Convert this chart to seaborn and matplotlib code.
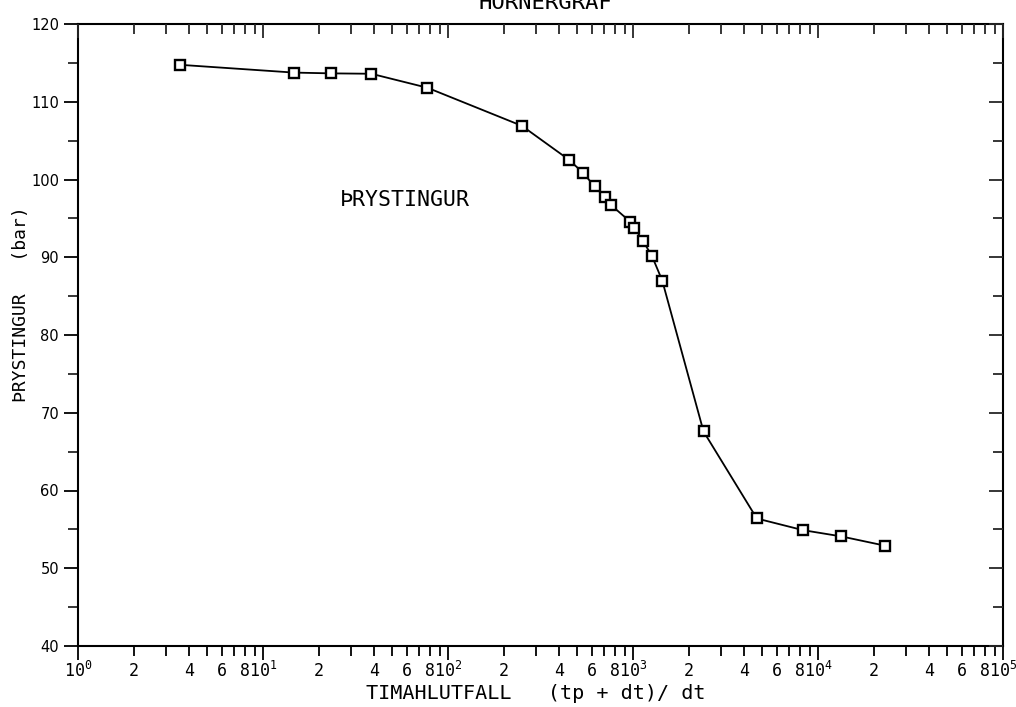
import numpy as np
import pandas as pd
import matplotlib
matplotlib.use("Agg")
import matplotlib.pyplot as plt
import matplotlib.ticker as mticker
import seaborn as sns

# ---- data ----
ratio = [3.57, 14.7, 23.4, 38.5, 77.4, 251, 453, 534, 622, 706, 762,
         968, 1018, 1128, 1264, 1439, 2405, 4670, 8300, 13340, 23070]
pressure = [114.75, 113.75, 113.65, 113.6, 111.8, 106.9, 102.5, 100.9, 99.1,
            97.7, 96.7, 94.55, 93.8, 92.15, 90.2, 87.0, 67.6, 56.4, 54.9,
            54.1, 52.9]

decades = [1, 10, 100, 1000, 10000, 100000]
decade_labels = [r"$\mathregular{10^{0}}$", r"$\mathregular{10^{1}}$",
                 r"$\mathregular{10^{2}}$", r"$\mathregular{10^{3}}$",
                 r"$\mathregular{10^{4}}$", r"$\mathregular{10^{5}}$"]
sub_mult = [2, 3, 4, 5, 6, 7, 8, 9]
sub_labelled = [2, 4, 6, 8]
y_major = [40, 50, 60, 70, 80, 90, 100, 110, 120]
y_minor = [45, 55, 65, 75, 85, 95, 105, 115]

title_text = "HORNERGRAF"
xlabel_text = "TIMAHLUTFALL   (tp + dt)/ dt"
ylabel_text = "ÞRYSTINGUR   (bar)"
annot_text = "ÞRYSTINGUR"

# ---- style ----
sns.set_theme(style="white")
plt.rcParams["font.family"] = ["DejaVu Sans Mono", "DejaVu Sans"]
plt.rcParams["mathtext.fontset"] = "dejavusans"

fig = plt.figure(figsize=(10.16, 7.07), dpi=100)
W, H = 1016, 707
L, R, T, B = 78, 1003, 24, 646
ax = fig.add_axes([L / W, (H - B) / H, (R - L) / W, (B - T) / H])

df = pd.DataFrame({"ratio": ratio, "pressure": pressure})
sns.lineplot(data=df, x="ratio", y="pressure", sort=False, ax=ax,
             color="black", linewidth=1.3, marker="s", markersize=6.5,
             markerfacecolor="white", markeredgecolor="black",
             markeredgewidth=1.7)

ax.set_xscale("log")
ax.set_xlim(1, 1e5)
ax.set_ylim(40, 120)

for s in ax.spines.values():
    s.set_visible(True)
    s.set_color("black")
    s.set_linewidth(1.5)

# x ticks (bottom, outward)
minor_pos = [m * d for d in decades[:-1] for m in sub_mult]
minor_lab = [str(m) if m in sub_labelled else "" for d in decades[:-1] for m in sub_mult]
ax.xaxis.set_major_locator(mticker.FixedLocator(decades))
ax.xaxis.set_major_formatter(mticker.FixedFormatter(decade_labels))
ax.xaxis.set_minor_locator(mticker.FixedLocator(minor_pos))
ax.xaxis.set_minor_formatter(mticker.FixedFormatter(minor_lab))
ax.tick_params(axis="x", which="major", direction="out", length=10, width=1.3,
               labelsize=12, pad=12.4, bottom=True, top=False, colors="black")
ax.tick_params(axis="x", which="minor", direction="out", length=7, width=1.3,
               labelsize=12, pad=14.6, bottom=True, top=False, colors="black")
for t in ax.xaxis.get_major_ticks() + ax.xaxis.get_minor_ticks():
    t.label1.set_verticalalignment("baseline")

# y ticks (left, outward)
ax.yaxis.set_major_locator(mticker.FixedLocator(y_major))
ax.yaxis.set_minor_locator(mticker.FixedLocator(y_minor))
ax.yaxis.set_major_formatter(mticker.FormatStrFormatter("%d"))
ax.tick_params(axis="y", which="major", direction="out", length=10, width=1.3,
               labelsize=10.5, pad=3.6, left=True, right=False, colors="black")
ax.tick_params(axis="y", which="minor", direction="out", length=7, width=1.3,
               left=True, right=False)
for lab in ax.get_yticklabels():
    lab.set_family("DejaVu Sans")

# top ticks (inward)
axt = ax.twiny()
axt.set_xscale("log")
axt.set_xlim(ax.get_xlim())
axt.xaxis.set_major_locator(mticker.FixedLocator(decades))
axt.xaxis.set_minor_locator(mticker.FixedLocator(minor_pos))
axt.xaxis.set_major_formatter(mticker.NullFormatter())
axt.xaxis.set_minor_formatter(mticker.NullFormatter())
axt.tick_params(axis="x", which="major", direction="in", length=10, width=1.3,
                top=True, bottom=False)
axt.tick_params(axis="x", which="minor", direction="in", length=7, width=1.3,
                top=True, bottom=False)
axt.grid(False)
for s in axt.spines.values():
    s.set_visible(False)

# right ticks (inward)
axr = ax.twinx()
axr.set_ylim(ax.get_ylim())
axr.yaxis.set_major_locator(mticker.FixedLocator(y_major))
axr.yaxis.set_minor_locator(mticker.FixedLocator(y_minor))
axr.yaxis.set_major_formatter(mticker.NullFormatter())
axr.tick_params(axis="y", which="major", direction="in", length=10, width=1.3,
                right=True, left=False)
axr.tick_params(axis="y", which="minor", direction="in", length=7, width=1.3,
                right=True, left=False)
axr.grid(False)
for s in axr.spines.values():
    s.set_visible(False)

ax.grid(False)
ax.set_xlabel(xlabel_text, fontsize=14.5, color="black")
ax.xaxis.set_label_coords(0.495, -0.061)
ax.set_ylabel(ylabel_text, fontsize=13, color="black")
ax.yaxis.set_label_coords(-0.052, 0.55)

ax.text(26, 97.4, annot_text, fontsize=15.5, color="black",
        ha="left", va="center")

fig.text(545 / W, 1 - 9 / H, title_text, fontsize=16, color="black",
         ha="center", va="baseline")

fig.savefig("out.png", dpi=100, facecolor="white")
